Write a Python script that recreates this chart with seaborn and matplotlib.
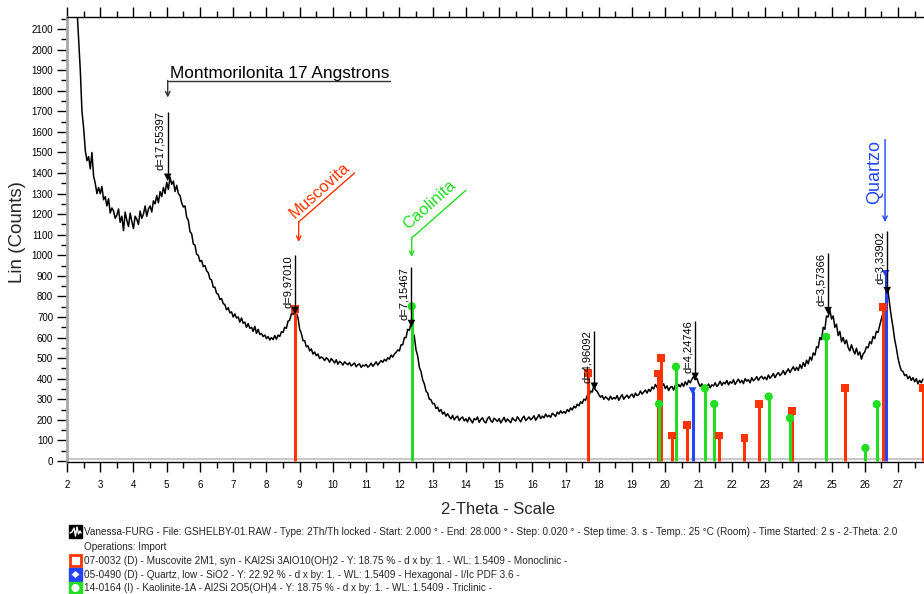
import numpy as np
import pandas as pd
import matplotlib
matplotlib.use('Agg')
import matplotlib.pyplot as plt
import seaborn as sns
from matplotlib.ticker import MultipleLocator, FixedLocator
from matplotlib.patches import Rectangle, Ellipse, Polygon
from matplotlib.lines import Line2D

sns.set_theme(style='white')
plt.rcParams['font.family'] = ['Liberation Sans', 'DejaVu Sans']

# ---------------- data ----------------
scan_start = 2.30
scan_step = 0.05
scan_counts = [
    2200, 2050, 1900, 1700,
    1620, 1510, 1460, 1480, 1420, 1500, 1385, 1350, 1300, 1330,
    1300, 1335, 1270, 1285, 1240, 1275, 1205, 1230, 1215, 1180,
    1195, 1225, 1160, 1190, 1120, 1210, 1170, 1140, 1205, 1165,
    1130, 1190, 1175, 1150, 1215, 1180, 1200, 1240, 1190, 1225,
    1240, 1210, 1265, 1250, 1290, 1255, 1310, 1285, 1330, 1300,
    1355, 1320, 1380, 1345, 1360, 1310, 1340, 1300, 1290, 1255,
    1235, 1240, 1185, 1170, 1115, 1105, 1055, 1050, 1005, 1000,
    970, 975, 945, 950, 925, 915, 885, 880, 845, 845,
    815, 810, 785, 790, 765, 760, 735, 745, 720, 725,
    700, 715, 695, 700, 675, 695, 670, 675, 650, 668,
    645, 650, 630, 655, 620, 640, 615, 620, 605, 612,
    595, 605, 588, 600, 590, 610, 592, 612, 605, 628,
    625, 650, 645, 680, 685, 715, 712, 738, 720, 695,
    640, 620, 585, 585, 555, 560, 535, 545, 520, 530,
    512, 520, 498, 506, 500, 488, 502, 495, 480, 498,
    488, 476, 492, 470, 484, 478, 466, 482, 474, 468,
    478, 462, 470, 476, 458, 468, 472, 455, 466, 462,
    470, 456, 463, 476, 460, 470, 482, 466, 478, 488,
    480, 494, 486, 502, 495, 515, 505, 520, 528, 540,
    535, 565, 565, 600, 600, 640, 635, 670, 630, 605,
    540, 510, 455, 435, 395, 375, 340, 330, 300, 298,
    278, 280, 255, 262, 240, 250, 228, 238, 218, 230,
    215, 205, 222, 200, 212, 218, 196, 208, 214, 195,
    205, 190, 212, 198, 185, 206, 200, 214, 188, 202,
    210, 192, 185, 205, 215, 196, 188, 208, 200, 192,
    206, 185, 198, 212, 190, 204, 195, 186, 210, 200,
    194, 215, 202, 190, 208, 218, 196, 205, 214, 200,
    208, 220, 198, 212, 225, 206, 218, 210, 228, 215,
    222, 212, 232, 225, 216, 238, 228, 244, 232, 240,
    232, 250, 240, 258, 248, 266, 258, 276, 268, 288,
    280, 300, 295, 318, 315, 340, 335, 365, 345, 338,
    322, 310, 318, 300, 312, 305, 296, 315, 300, 308,
    302, 318, 295, 310, 322, 300, 312, 320, 305, 318,
    325, 308, 330, 318, 322, 340, 325, 335, 345, 330,
    348, 338, 360, 350, 372, 358, 380, 368, 362, 375,
    352, 365, 342, 358, 362, 345, 368, 355, 372, 360,
    378, 362, 385, 370, 392, 380, 398, 410, 395, 402,
    378, 362, 375, 352, 368, 360, 374, 356, 370, 365,
    380, 362, 372, 388, 368, 382, 375, 392, 370, 385,
    378, 395, 372, 386, 398, 380, 392, 376, 400, 388,
    395, 380, 405, 390, 398, 410, 392, 405, 412, 398,
    408, 395, 418, 402, 412, 425, 405, 420, 430, 415,
    425, 440, 420, 435, 448, 430, 445, 458, 440, 455,
    440, 468, 450, 478, 460, 490, 472, 505, 490, 525,
    515, 555, 550, 600, 590, 650, 640, 705, 700, 735,
    690, 705, 650, 665, 610, 630, 580, 600, 570, 588,
    552, 535, 565, 540, 520, 548, 515, 530, 495, 520,
    530, 555, 550, 580, 570, 605, 595, 630, 625, 660,
    690, 720, 745, 790, 825, 760, 700, 650, 590, 550,
    500, 465, 440, 435, 415, 420, 400, 412, 392, 405,
    385, 400, 375, 392, 380, 398,
]

muscovite_2theta = [8.86, 17.68, 19.79, 19.86, 20.21, 20.64, 21.62, 22.38, 22.83, 23.80, 25.41, 26.54, 27.76]
muscovite_counts = [740, 426, 425, 500, 124, 173, 124, 110, 276, 243, 353, 749, 353]

quartz_2theta = [20.82, 26.63]
quartz_counts = [340, 910]

kaolinite_2theta = [12.37, 19.81, 20.32, 21.19, 21.47, 23.11, 23.75, 24.84, 26.02, 26.36]
kaolinite_counts = [752, 277, 458, 353, 277, 313, 208, 603, 63, 276]

peak_2theta = [5.03, 8.862, 12.362, 17.866, 20.897, 24.896, 26.676]
peak_labels = ['d=17,55397', 'd=9,97010', 'd=7,15467', 'd=4,96092', 'd=4,24746', 'd=3,57366', 'd=3,33902']
peak_counts = [1379, 731, 668, 363, 411, 731, 828]
peak_label_top = [1699, 1002, 944, 634, 682, 1012, 1118]

x_ticks = list(range(2, 28))
y_ticks = list(range(0, 2200, 100))

legend_rows = [
    'Vanessa-FURG - File: GSHELBY-01.RAW - Type: 2Th/Th locked - Start: 2.000 ° - End: 28.000 ° - Step: 0.020 ° - Step time: 3. s - Temp.: 25 °C (Room) - Time Started: 2 s - 2-Theta: 2.0',
    'Operations: Import',
    '07-0032 (D) - Muscovite 2M1, syn - KAl2Si 3AlO10(OH)2 - Y: 18.75 % - d x by: 1. - WL: 1.5409 - Monoclinic -',
    '05-0490 (D) - Quartz, low - SiO2 - Y: 22.92 % - d x by: 1. - WL: 1.5409 - Hexagonal - I/Ic PDF 3.6 -',
    '14-0164 (I) - Kaolinite-1A - Al2Si 2O5(OH)4 - Y: 18.75 % - d x by: 1. - WL: 1.5409 - Triclinic -',
]

RED = '#ff3300'
GREEN = '#22dd22'
BLUE = '#2244ff'

# ---------------- figure ----------------
W, H = 924, 594
fig = plt.figure(figsize=(W / 100, H / 100), dpi=100)
ax_left, ax_top, ax_bottom = 67, 16.7, 462
ax = fig.add_axes([ax_left / W, 1 - ax_bottom / H, (W - ax_left) / W, (ax_bottom - ax_top) / H])

two_theta = np.round(scan_start + scan_step * np.arange(len(scan_counts)), 3)
scan_df = pd.DataFrame({'two_theta': two_theta, 'counts': scan_counts})

ax.axhline(12, color='#c8c8c8', lw=1.5, zorder=1)
sns.lineplot(data=scan_df, x='two_theta', y='counts', color='black', lw=1.1,
             ax=ax, sort=False, estimator=None, zorder=2)

# reference stick patterns
ax.vlines(muscovite_2theta, 0, muscovite_counts, color=RED, lw=2.2, zorder=3)
ax.vlines(kaolinite_2theta, 0, kaolinite_counts, color=GREEN, lw=2.2, zorder=3)
ax.vlines(quartz_2theta, 0, quartz_counts, color=BLUE, lw=2.2, zorder=3)
sns.scatterplot(x=muscovite_2theta, y=muscovite_counts, marker='s', s=32, color=RED,
                edgecolor='none', ax=ax, zorder=4, legend=False)
sns.scatterplot(x=kaolinite_2theta, y=kaolinite_counts, marker='o', s=36, color=GREEN,
                edgecolor='none', ax=ax, zorder=4, legend=False)
sns.scatterplot(x=quartz_2theta, y=quartz_counts, marker='v', s=30, color=BLUE,
                edgecolor='none', ax=ax, zorder=4, legend=False)

# peak d-spacing labels
ax.vlines(peak_2theta, peak_counts, peak_label_top, color='black', lw=1, zorder=5)
sns.scatterplot(x=peak_2theta, y=peak_counts, marker='v', s=30, color='black',
                edgecolor='none', ax=ax, zorder=6, legend=False)
for px, lab, top in zip(peak_2theta, peak_labels, peak_label_top):
    ax.text(px - 0.07, top, lab, rotation=90, ha='right', va='top', fontsize=8, color='black', zorder=6)

# phase annotations
ax.text(5.1, 1863, 'Montmorilonita 17 Angstrons', fontsize=12.4, va='baseline', color='black')
ax.plot([5.03, 11.72], [1849, 1849], color='#333333', lw=1)
ax.annotate('', xy=(5.03, 1767), xytext=(5.03, 1850),
            arrowprops=dict(arrowstyle='->', lw=1, color='#333333', shrinkA=0, shrinkB=0, mutation_scale=8))

ax.text(8.92, 1165, 'Muscovita', rotation=42, rotation_mode='anchor', ha='left', va='bottom',
        fontsize=12, color=RED)
ax.plot([8.97, 10.65], [1162, 1400], color=RED, lw=1)
ax.annotate('', xy=(8.97, 1065), xytext=(8.97, 1163),
            arrowprops=dict(arrowstyle='->', lw=1, color=RED, shrinkA=0, shrinkB=0, mutation_scale=8))

ax.text(12.32, 1110, 'Caolinita', rotation=42, rotation_mode='anchor', ha='left', va='bottom',
        fontsize=12, color=GREEN)
ax.plot([12.37, 14.0], [1084, 1316], color=GREEN, lw=1)
ax.annotate('', xy=(12.37, 992), xytext=(12.37, 1085),
            arrowprops=dict(arrowstyle='->', lw=1, color=GREEN, shrinkA=0, shrinkB=0, mutation_scale=8))

ax.text(26.55, 1249, 'Quartzo', rotation=90, ha='right', va='bottom', fontsize=13, color=BLUE)
ax.annotate('', xy=(26.61, 1162), xytext=(26.61, 1563),
            arrowprops=dict(arrowstyle='->', lw=1, color=BLUE, shrinkA=0, shrinkB=0, mutation_scale=8))

# axes styling
ax.set_xlim(2, 2 + (W - ax_left) / 33.24)
ax.set_ylim(-5, 2160)
ax.xaxis.set_major_locator(FixedLocator(x_ticks))
ax.yaxis.set_major_locator(FixedLocator(y_ticks))
ax.xaxis.set_minor_locator(MultipleLocator(0.5))
ax.yaxis.set_minor_locator(MultipleLocator(50))
ax.set_xticklabels([str(t) for t in x_ticks])
ax.set_yticklabels([str(t) for t in y_ticks])
ax.tick_params(axis='both', which='major', direction='out', length=7, width=1, color='black',
               labelsize=7, labelcolor='black')
ax.tick_params(axis='both', which='minor', direction='out', length=4, width=1, color='black')
ax.tick_params(axis='x', which='both', top=True, bottom=True, pad=6)
ax.tick_params(axis='x', which='major', top=True, labeltop=False)
ax.tick_params(axis='y', which='both', left=True, right=False, pad=3)
ax.set_xlabel('')
ax.set_ylabel('')
ax.spines['right'].set_visible(False)
ax.spines['top'].set_color('black')
ax.spines['top'].set_linewidth(1)
ax.spines['bottom'].set_color('black')
ax.spines['bottom'].set_linewidth(1)
ax.spines['left'].set_color('#a8a8a8')
ax.spines['left'].set_linewidth(2)
ax.grid(False)

fig.text(498 / W, 1 - 509 / H, '2-Theta - Scale', fontsize=12, ha='center', va='center')
fig.text(18 / W, 1 - 232 / H, 'Lin (Counts)', fontsize=13.5, rotation=90, ha='center', va='center')

# legend rows
row_y = [532, 547, 561, 575, 588]
for txt, yy in zip(legend_rows, row_y):
    fig.text(84 / W, 1 - yy / H, txt, fontsize=7.2, ha='left', va='center')

def fig_rect(x0, y0, w, h, **kw):
    return Rectangle((x0 / W, 1 - (y0 + h) / H), w / W, h / H, transform=fig.transFigure, **kw)

# icon 1: scan
fig.add_artist(fig_rect(69, 525, 13, 13, facecolor='black', edgecolor='black'))
fig.add_artist(Line2D(np.array([70, 72, 74, 75.5, 77, 78.5, 80, 81]) / W,
                      1 - np.array([533, 532, 528, 536, 527, 534, 531, 533]) / H,
                      color='white', lw=1, transform=fig.transFigure))
# icon 2: muscovite
fig.add_artist(fig_rect(70, 555, 11, 11, facecolor='white', edgecolor=RED, lw=2))
# icon 3: quartz
fig.add_artist(fig_rect(69, 568, 13, 13, facecolor=BLUE, edgecolor=BLUE))
fig.add_artist(Polygon([[75.5 / W, 1 - 571 / H], [79.5 / W, 1 - 574.5 / H], [75.5 / W, 1 - 578 / H], [71.5 / W, 1 - 574.5 / H]],
                       closed=True, facecolor='white', edgecolor='none', transform=fig.transFigure))
# icon 4: kaolinite
fig.add_artist(fig_rect(69, 582, 13, 12, facecolor=GREEN, edgecolor=GREEN))
fig.add_artist(Ellipse((75.5 / W, 1 - 588 / H), 8 / W, 8 / H, facecolor='white', edgecolor='none',
                       transform=fig.transFigure))

fig.savefig('out.png', dpi=100)
